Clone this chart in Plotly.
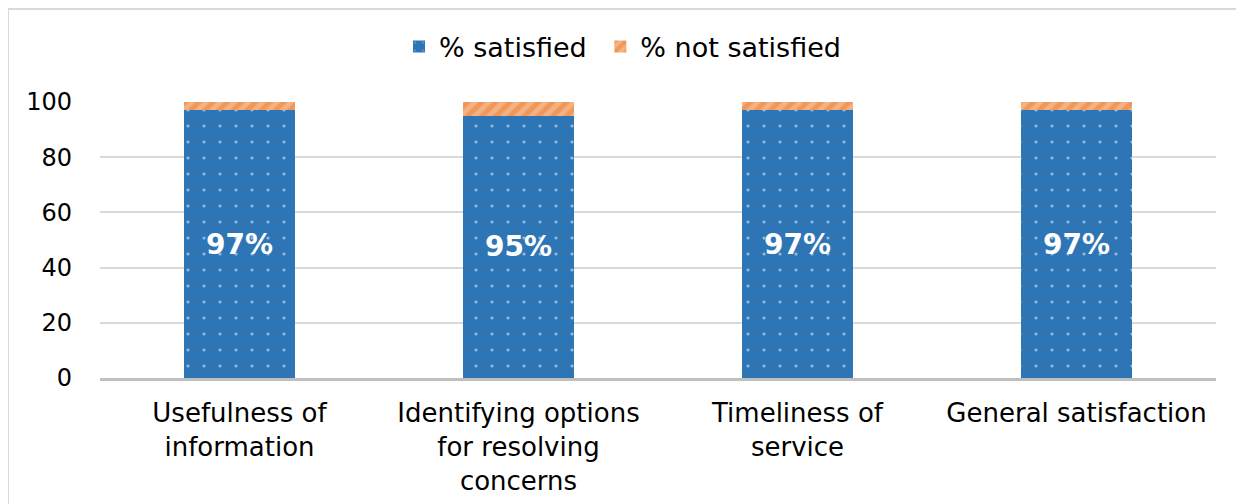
import plotly.graph_objects as go

categories = ["Usefulness of<br>information", "Identifying options<br>for resolving<br>concerns",
              "Timeliness of<br>service", "General satisfaction"]
satisfied = [97, 95, 97, 97]
not_satisfied = [3, 5, 3, 3]
sat_labels = ["97%", "95%", "97%", "97%"]

# page body adds an 8px offset; figure drawn in its own coordinates
W, H = 1236, 496
L, R, T, B = 92, 28, 94, 126
pw, ph = W - L - R, H - T - B
FONT = "DejaVu Sans"

fig = go.Figure()
fig.add_bar(x=categories, y=satisfied, name="% satisfied\u00a0",
            marker=dict(color="#2E75B6", line=dict(width=0),
                        pattern=dict(shape=".", fgcolor="white", bgcolor="#2E75B6", size=16, solidity=0.03)),
            text=sat_labels, textposition="inside", insidetextanchor="middle",
            textfont=dict(color="white", size=28, family=FONT), textangle=0,
            texttemplate="<b>%{text}</b>")
fig.add_bar(x=categories, y=not_satisfied, name="% not satisfied",
            marker=dict(color="#F4B183", line=dict(width=0),
                        pattern=dict(shape="/", fgcolor="#ED7D31", bgcolor="#F4B183", size=10, solidity=0.5)),
            hoverinfo="y")

fig.update_layout(
    width=W, height=H, barmode="stack", bargap=0.6,
    margin=dict(l=L, r=R, t=T, b=B, autoexpand=False),
    paper_bgcolor="white", plot_bgcolor="white",
    font=dict(family=FONT, size=26, color="#000000"),
    legend=dict(orientation="h", x=(391 - L) / pw, xanchor="left", y=1 + 55 / ph, yanchor="middle",
                font=dict(size=27), traceorder="normal", itemwidth=30),
    uniformtext=dict(mode="show", minsize=10),
    showlegend=True,
)
fig.update_yaxes(range=[0, 100], dtick=20, showgrid=True, gridcolor="#D9D9D9", gridwidth=1.5,
                 zeroline=False, showline=False, ticks="", ticklabelstandoff=27,
                 tickfont=dict(size=24))
fig.update_xaxes(showline=True, linecolor="#BFBFBF", linewidth=3, ticks="", ticklabelstandoff=10,
                 tickfont=dict(size=26))

fig.add_shape(type="rect", xref="paper", yref="paper",
              x0=(0 - L) / pw, x1=(W - 1 - L) / pw,
              y0=(H - B - (H + 10)) / ph, y1=(H - B - 1) / ph,
              line=dict(color="#D9D9D9", width=2), fillcolor="rgba(0,0,0,0)", layer="below")

fig.write_html("out.html")
